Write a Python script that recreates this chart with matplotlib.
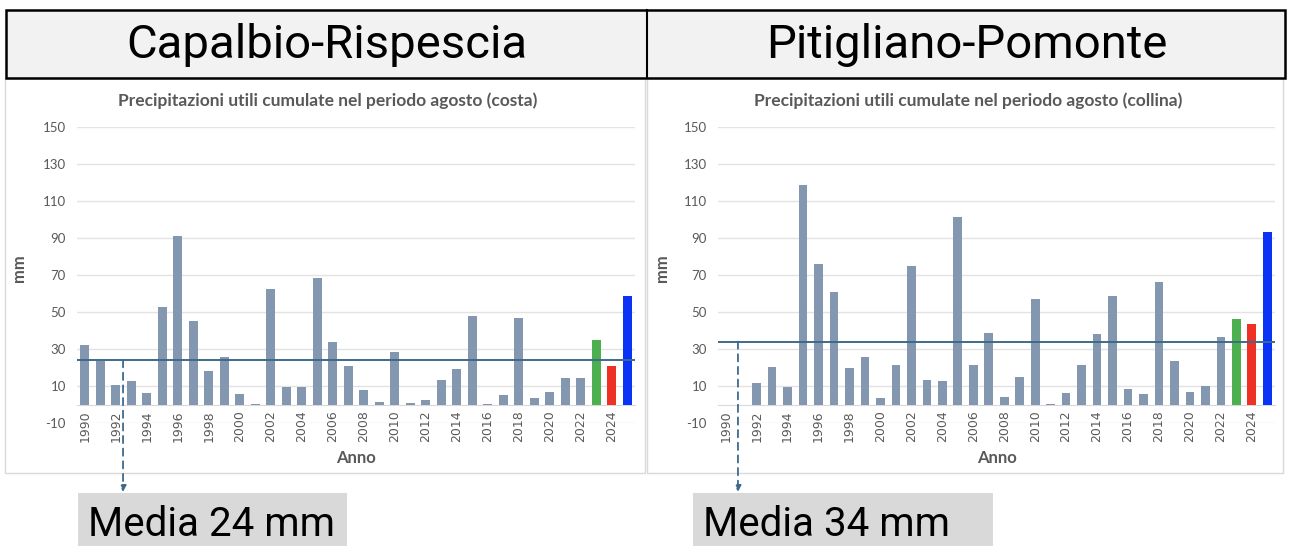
import numpy as np
import matplotlib.pyplot as plt
from matplotlib.patches import Rectangle

nan = np.nan
plt.rcParams["axes.unicode_minus"] = False

years = list(range(1990, 2026))
stations = ["Capalbio-Rispescia", "Pitigliano-Pomonte"]
zones = ["costa", "collina"]
media = [24, 34]

# cumulative useful rain in August (mm), 1990-2025
costa = [32, 23.5, 10.5, 12.5, 6, 52.5, 91, 45, 18, 25.5, 5.5, 0.5,
         62.5, 9.5, 9.5, 68.5, 34, 21, 8, 1.5, 28.5, 0.8, 2.5, 13,
         19, 48, 0.3, 5, 47, 3.5, 6.5, 14.5, 14.5, 35, 21, 58.5]
collina = [nan, nan, 11.5, 20.5, 9.5, 118.5, 76, 61, 19.5, 25.5, 3.5, 21.5,
           75, 13, 12.5, 101.5, 21.5, 38.5, 4, 15, 57, 0.5, 6, 21.5,
           38, 58.5, 8.5, 5.5, 66, 23.5, 7, 10, 36.5, 46, 43.5, 93.5]
series = [costa, collina]

yticks = list(range(-10, 151, 20))
xtick_years = list(range(1990, 2025, 2))

W, H = 1290, 546
GREY_BAR = "#8497b0"
HIGHLIGHT = {2023: "#4caf50", 2024: "#ee3124", 2025: "#0a33f5"}
LINE_C = "#3d6a8c"
TXT = "#595959"
FONT = ["Lato", "DejaVu Sans"]
BIG = ["Roboto", "DejaVu Sans"]

fig = plt.figure(figsize=(W / 100, H / 100), dpi=100)
fig.patch.set_facecolor("white")


def fx(x):
    return x / W


def fy(y):
    return 1 - y / H


# header band with the two station names
fig.add_artist(Rectangle((fx(6), fy(78)), fx(1279), 68 / H, transform=fig.transFigure,
                         facecolor="#f2f2f2", edgecolor="black", lw=1.8, zorder=1))
fig.add_artist(plt.Line2D([fx(647), fx(647)], [fy(78), fy(10)], transform=fig.transFigure,
                          color="black", lw=1.5, zorder=2))

panels = [(5, 645), (647, 1283)]
ax_x = [(77, 635), (718, 1275)]
ylab_x = [27, 670]
arrow_x = [2.47, 0.79]
box_x = [(78, 347), (693, 993)]

for i in range(2):
    p0, p1 = panels[i]
    fig.add_artist(Rectangle((fx(p0), fy(473)), fx(p1 - p0), 395 / H, transform=fig.transFigure,
                             facecolor="white", edgecolor="#d9d9d9", lw=1, zorder=0))
    fig.text(fx((p0 + p1) / 2 + 2), fy(45), stations[i], ha="center", va="center",
             fontsize=34, family=BIG, color="black", zorder=3)

    a0, a1 = ax_x[i]
    ax = fig.add_axes([fx(a0), fy(423), fx(a1 - a0), 296 / H])
    ax.set_facecolor("none")
    vals = np.array(series[i], dtype=float)
    colors = [HIGHLIGHT.get(y, GREY_BAR) for y in years]
    x = np.arange(len(years))
    ax.bar(x, np.nan_to_num(vals), width=0.56, color=colors, zorder=3)
    ax.axhline(media[i], color=LINE_C, lw=1.4, zorder=4)

    ax.set_xlim(-0.5, len(years) - 0.5)
    ax.set_ylim(-10, 150)
    ax.set_yticks(yticks)
    ax.yaxis.grid(True, color="#e3e3e3", lw=1, zorder=0)
    ax.set_xticks([years.index(y) for y in xtick_years])
    ax.set_xticklabels([str(y) for y in xtick_years])
    ax.tick_params(axis="both", length=0, labelsize=9.5, labelcolor=TXT)
    ax.tick_params(axis="y", pad=8)
    ax.tick_params(axis="x", pad=4, labelrotation=90, labelsize=9)
    for lab in ax.get_xticklabels() + ax.get_yticklabels():
        lab.set_family(FONT)
    for s in ["top", "right", "left"]:
        ax.spines[s].set_visible(False)
    ax.spines["bottom"].set_position(("data", 0))
    ax.spines["bottom"].set_color("#d9d9d9")

    ax.set_xlabel("Anno", fontsize=12, fontweight="bold", color=TXT, family=FONT)
    ax.xaxis.set_label_coords(0.5, (423 - 450) / 296)
    ax.set_ylabel("mm", fontsize=12, fontweight="bold", color=TXT, family=FONT)
    ax.yaxis.set_label_coords((ylab_x[i] - a0) / (a1 - a0), (423 - 268) / 296)

    fig.text(fx((p0 + p1) / 2 + 3), fy(101),
             f"Precipitazioni utili cumulate nel periodo agosto ({zones[i]})",
             ha="center", va="center", fontsize=12.5, fontweight="bold", color=TXT, family=FONT)

    # dashed pointer from the mean line to its label box
    ax.annotate("", xy=(arrow_x[i], fy(492)), xycoords=("data", "figure fraction"),
                xytext=(arrow_x[i], media[i]), textcoords="data", annotation_clip=False,
                arrowprops=dict(arrowstyle="-|>", color=LINE_C, lw=1.3, linestyle=(0, (4, 3)),
                                mutation_scale=9, shrinkA=0, shrinkB=0))

    b0, b1 = box_x[i]
    fig.add_artist(Rectangle((fx(b0), 0), fx(b1 - b0), fy(493), transform=fig.transFigure,
                             facecolor="#d9d9d9", edgecolor="none", zorder=1))
    fig.text(fx(b0 + 10), fy(524), f"Media {media[i]} mm", ha="left", va="center",
             fontsize=29, family=BIG, color="black", zorder=3)

fig.savefig("out.png", dpi=100)
